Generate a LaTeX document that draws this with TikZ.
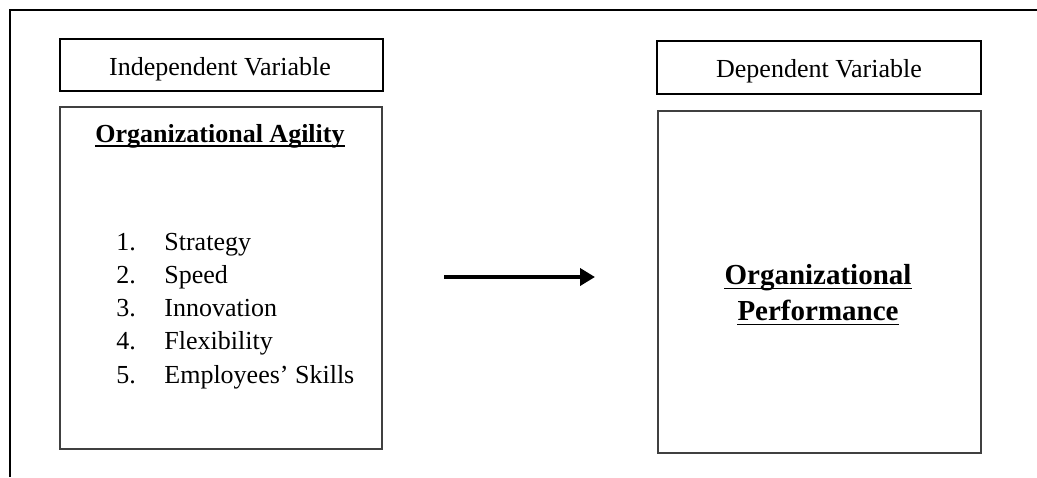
\documentclass[tikz,border=0pt]{standalone}
\usepackage{fontspec}
\setmainfont{Liberation Serif}
\usetikzlibrary{arrows.meta}
\tikzset{
  x=0.5pt, y=-0.5pt,
  frame/.style={line width=1pt, draw=black},
  labelbox/.style={draw=black, line width=0.75pt, inner sep=0pt, fill=none},
  bigbox/.style={draw=black!75, line width=0.7pt, inner sep=0pt},
  txt/.style={inner sep=0pt, anchor=base, font=\fontsize{13pt}{15pt}\selectfont},
  head/.style={inner sep=0pt, anchor=base, font=\fontsize{13pt}{15pt}\selectfont\bfseries},
  bighead/.style={inner sep=0pt, anchor=base, font=\fontsize{14.5pt}{17pt}\selectfont\bfseries},
  item/.style={inner sep=0pt, anchor=base west, font=\fontsize{13pt}{15pt}\selectfont},
  uline/.style={line width=0.85pt},
  flow/.style={line width=2pt, -{Triangle[length=7.5pt,width=8.5pt]}}
}
\begin{document}
\begin{tikzpicture}
\useasboundingbox (0,0) rectangle (1037,477);
% outer partial frame
\coordinate (f1) at (10,477);
\coordinate (f2) at (10,10);
\coordinate (f3) at (1037,10);
\draw[frame] (f1) -- (f2) -- (f3);

% label boxes
\node[labelbox, minimum width=161.5pt, minimum height=26pt] (ivbox) at (221.5,65) {};
\node[txt] (ivtext) at (220,75) {Independent Variable};
\node[labelbox, minimum width=162pt, minimum height=26.5pt] (dvbox) at (819,67.5) {};
\node[txt] (dvtext) at (819,77) {Dependent Variable};

% big boxes
\node[bigbox, minimum width=161pt, minimum height=171pt] (agbox) at (221,278) {};
\node[bigbox, minimum width=161.5pt, minimum height=171pt] (pfbox) at (819.5,282) {};

% left box contents
\node[head] (aghead) at (220,142) {Organizational Agility};
\draw[uline] ([yshift=-2pt]aghead.base west) -- ([yshift=-2pt]aghead.base east);

\node[item] (n1) at (116,250) {1.};
\node[item] (i1) at (164,250) {Strategy};
\node[item] (n2) at (116,283) {2.};
\node[item] (i2) at (164,283) {Speed};
\node[item] (n3) at (116,316) {3.};
\node[item] (i3) at (164,316) {Innovation};
\node[item] (n4) at (116,349) {4.};
\node[item] (i4) at (164,349) {Flexibility};
\node[item] (n5) at (116,383) {5.};
\node[item] (i5) at (164,383) {Employees’ Skills};

% right box contents
\node[bighead] (pf1) at (818,284) {Organizational};
\draw[uline] ([yshift=-2.2pt]pf1.base west) -- ([yshift=-2.2pt]pf1.base east);
\node[bighead] (pf2) at (818,320) {Performance};
\draw[uline] ([yshift=-2.2pt]pf2.base west) -- ([yshift=-2.2pt]pf2.base east);

% arrow
\coordinate (a1) at (444,277);
\coordinate (a2) at (595,277);
\draw[flow] (a1) -- (a2);
\end{tikzpicture}
\end{document}
